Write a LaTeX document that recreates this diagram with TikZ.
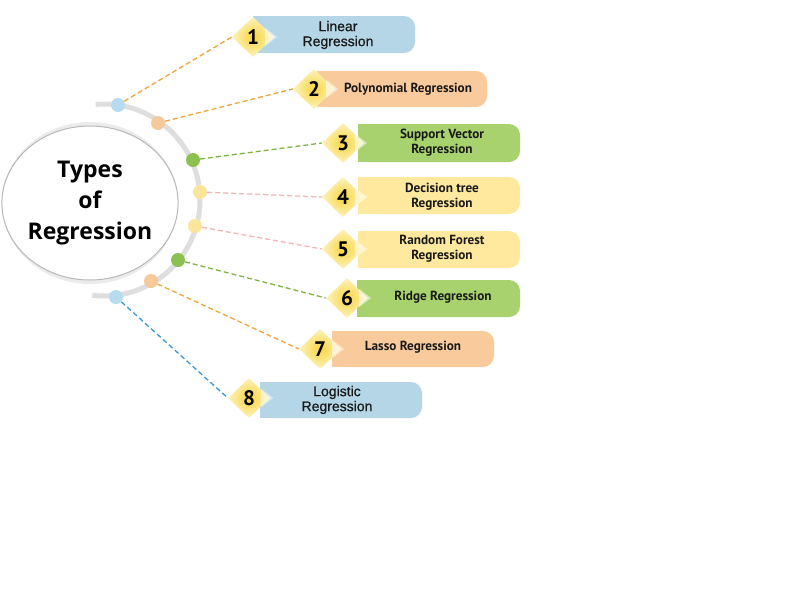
\documentclass[tikz,border=0pt]{standalone}
\usepackage{fontspec}
\setmainfont{Liberation Sans}
\newfontfamily\ptsans{PT Sans}
\newfontfamily\opensans{Open Sans}
\newfontfamily\arialmed{Liberation Sans}[FakeBold=0.7]
\usetikzlibrary{shapes.geometric}
\pgfdeclarelayer{bg}
\pgfsetlayers{bg,main}
\definecolor{boxblue}{HTML}{B4D6E6}
\definecolor{boxorange}{HTML}{F9CB9C}
\definecolor{boxgreen}{HTML}{A8D26D}
\definecolor{boxyellow}{HTML}{FEE99F}
\definecolor{dotblue}{HTML}{B7DCEF}
\definecolor{dotorange}{HTML}{F6C99B}
\definecolor{dotgreen}{HTML}{8CC152}
\definecolor{dotyellow}{HTML}{FBE59A}
\definecolor{lineorange}{HTML}{F0A53A}
\definecolor{linegreen}{HTML}{7DB544}
\definecolor{linepink}{HTML}{F2B4B4}
\definecolor{lineblue}{HTML}{3A9AD2}
\definecolor{arcgray}{HTML}{DEDEDE}
\definecolor{diain}{HTML}{F8D53E}
\definecolor{diaout}{HTML}{FDF2BE}
\begin{document}
\begin{tikzpicture}[x=1pt,y=-1pt,
  regbox/.style={rectangle, rounded corners=11pt, inner sep=0pt, draw=none},
  badge/.style={diamond, aspect=1, minimum width=42pt, minimum height=40pt, inner sep=0pt,
     shading=radial, inner color=diain, outer color=diaout,
     font=\ptsans\bfseries\fontsize{21}{21}\selectfont},
  lbl/.style={align=center, inner sep=0pt, text=black!90,
     font=\ptsans\bfseries\fontsize{13.2}{15}\selectfont},
  lblbig/.style={align=center, inner sep=0pt, text=black!90,
     font=\arialmed\fontsize{14}{15}\selectfont},
  dot/.style={circle, minimum size=14pt, inner sep=0pt},
  conn/.style={line width=1.3pt, dash pattern=on 5pt off 3pt},
  chev/.style={fill=white, opacity=0.5}
]
\begin{pgfonlayer}{bg}
\fill[white] (0,0) rectangle (800,600);
\end{pgfonlayer}
\useasboundingbox (0,0) rectangle (800,600);

% central ellipse
\node[ellipse, minimum width=168pt, minimum height=154pt, fill=white, draw=black!28, line width=1pt,
  align=center, inner sep=0pt, font=\opensans\bfseries\fontsize{23}{31}\selectfont]
  (title) at (90,203) {Types\\of\\Regression};

% gray arc
\coordinate (c) at (104,200);
\begin{pgfonlayer}{bg}
\draw[black!8, line width=4pt] (title.center) ellipse [x radius=86, y radius=79];
\draw[arcgray, line width=5pt] (c) ++(-95:96) arc[start angle=-95, end angle=97, radius=96];
\end{pgfonlayer}

% dots
\node[dot, fill=dotblue]   (p1) at (118,105) {};
\node[dot, fill=dotorange] (p2) at (158,123) {};
\node[dot, fill=dotgreen]  (p3) at (193,160) {};
\node[dot, fill=dotyellow] (p4) at (200,192) {};
\node[dot, fill=dotyellow] (p5) at (195,226) {};
\node[dot, fill=dotgreen]  (p6) at (178,260) {};
\node[dot, fill=dotorange] (p7) at (151,281) {};
\node[dot, fill=dotblue]   (p8) at (116,297) {};

% boxes (square left edge under rounded node)
\fill[boxblue]   (253,16) rectangle (270,53);
\node[regbox, fill=boxblue, minimum width=162pt, minimum height=37pt] (b1) at (334,34.5) {};
\fill[boxorange] (317,71) rectangle (335,107);
\node[regbox, fill=boxorange, minimum width=170pt, minimum height=36pt] (b2) at (402,89) {};
\fill[boxgreen]  (358,124) rectangle (375,162);
\node[regbox, fill=boxgreen, minimum width=162pt, minimum height=38pt] (b3) at (439,143) {};
\fill[boxyellow] (358,177) rectangle (375,214);
\node[regbox, fill=boxyellow, minimum width=162pt, minimum height=37pt] (b4) at (439,195.5) {};
\fill[boxyellow] (358,231) rectangle (375,268);
\node[regbox, fill=boxyellow, minimum width=162pt, minimum height=37pt] (b5) at (439,249.5) {};
\fill[boxgreen]  (357,280) rectangle (375,317);
\node[regbox, fill=boxgreen, minimum width=163pt, minimum height=37pt] (b6) at (438.5,298.5) {};
\fill[boxorange] (332,331) rectangle (350,367);
\node[regbox, fill=boxorange, minimum width=162pt, minimum height=36pt] (b7) at (413,349) {};
\fill[boxblue]   (260,382) rectangle (278,418);
\node[regbox, fill=boxblue, minimum width=162pt, minimum height=36pt] (b8) at (341,400) {};

% labels
\node[lblbig] (t1) at (338,35) {Linear\\Regression};
\node[lbl] (t2) at (408,89) {Polynomial Regression};
\node[lbl] (t3) at (442,142.5) {Support Vector\\Regression};
\node[lbl] (t4) at (442,196.5) {Decision tree\\Regression};
\node[lbl] (t5) at (442,248.5) {Random Forest\\Regression};
\node[lbl] (t6) at (443,297) {Ridge Regression};
\node[lbl] (t7) at (413,347) {Lasso Regression};
\node[lblbig] (t8) at (337,400) {Logistic\\Regression};

% badges
\node[badge] (d1) at (253,37) {1};
\node[badge] (d2) at (314,89) {2};
\node[badge] (d3) at (343,143) {3};
\node[badge] (d4) at (343,197) {4};
\node[badge] (d5) at (343,249) {5};
\node[badge] (d6) at (347,298) {6};
\node[badge] (d7) at (320,349) {7};
\node[badge] (d8) at (249,398) {8};
\foreach \d in {d1,d2,d3,d4,d5,d6,d7,d8}
  \fill[chev] ([xshift=-9pt,yshift=9pt]\d.east) -- ([xshift=3pt]\d.east) -- ([xshift=-9pt,yshift=-9pt]\d.east) -- cycle;

% connectors
\begin{pgfonlayer}{bg}
\draw[conn, lineorange] (p1) -- (d1.west);
\draw[conn, lineorange] (p2) -- (d2.west);
\draw[conn, linegreen]  (p3) -- (d3.west);
\draw[conn, linepink]   (p4) -- (d4.west);
\draw[conn, linepink]   (p5) -- (d5.west);
\draw[conn, linegreen]  (p6) -- (d6.west);
\draw[conn, lineorange] (p7) -- (d7.west);
\draw[conn, lineblue]   (p8) -- (d8.west);
\end{pgfonlayer}
\end{tikzpicture}
\end{document}
